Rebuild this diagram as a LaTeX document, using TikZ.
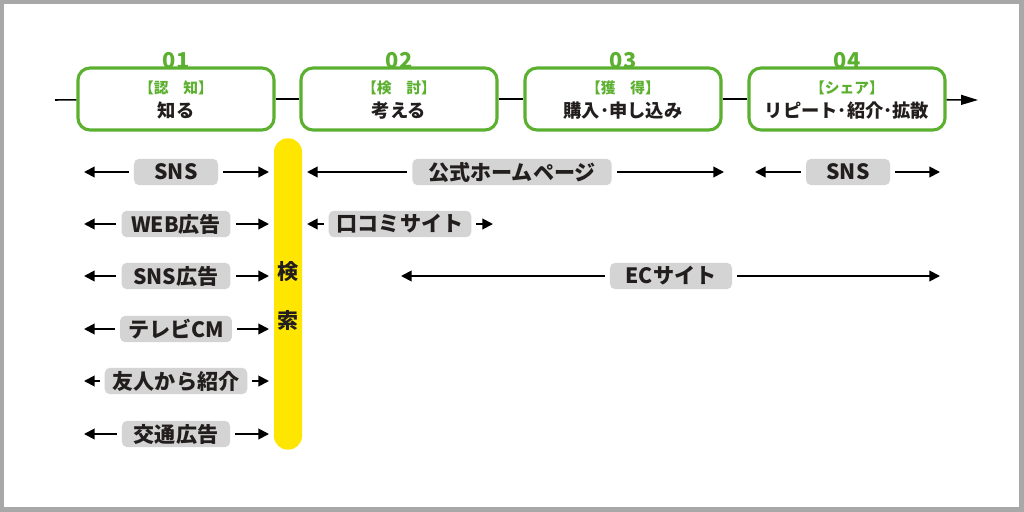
\documentclass[tikz,border=0pt]{standalone}
\usepackage{fontspec}
\newfontfamily\jp{Noto Sans CJK JP}
\usetikzlibrary{arrows.meta,positioning}
\definecolor{stepgreen}{RGB}{92,176,48}
\definecolor{searchyellow}{RGB}{255,230,0}
\definecolor{taggray}{RGB}{212,212,212}
\definecolor{ink}{RGB}{35,30,30}
\definecolor{framegray}{RGB}{168,168,168}
\tikzset{
 stage/.style={draw=stepgreen,line width=2.2pt,rounded corners=0.3cm,fill=white,minimum width=4.9cm,minimum height=1.55cm},
 stagenum/.style={text=stepgreen,font=\jp\bfseries\fontsize{15.5}{15.5}\selectfont,inner sep=0pt},
 stagekind/.style={text=stepgreen,font=\jp\bfseries\fontsize{10.5}{10.5}\selectfont,inner sep=0pt},
 stagetitle/.style={text=ink,font=\jp\bfseries\fontsize{13}{13}\selectfont,inner sep=0pt},
 tag/.style={fill=taggray,rounded corners=0.13cm,text=ink,font=\jp\bfseries\fontsize{15}{15}\selectfont,minimum height=0.66cm,inner xsep=0.2cm,inner ysep=0pt,outer xsep=0.13cm},
 searchbar/.style={fill=searchyellow,rounded corners=0.34cm,minimum width=0.7cm,minimum height=7.78cm,inner sep=0pt},
 searchchar/.style={text=ink,font=\jp\bfseries\fontsize{15}{15}\selectfont,inner sep=0pt},
 flow/.style={line width=1.3pt,-{Triangle[length=7.5pt,width=7.5pt]}},
 mainline/.style={line width=1.1pt}
}
\begin{document}
\begin{tikzpicture}[x=0.025cm,y=-0.025cm]
 % frame
 \fill[framegray] (0,0) rectangle (1024,512);
 \fill[white] (4,4) rectangle (1019,507);
 \useasboundingbox (0,0) rectangle (1024,512);
 % stages
 \coordinate (start) at (55,100);
 \coordinate (end) at (978,100);
 \node[stage] (s1) at (176,99) {};
 \node[stage] (s2) at (399,99) {};
 \node[stage] (s3) at (623,99) {};
 \node[stage] (s4) at (847,99) {};
 \draw[mainline] (start) -- (s1);
 \draw[mainline] (s1) -- (s2);
 \draw[mainline] (s2) -- (s3);
 \draw[mainline] (s3) -- (s4);
 \draw[mainline,-{Triangle[length=12pt,width=7pt]}] (s4) -- (end);
 \node[stagenum] (n1) at (176,61) {01};
 \node[stagenum] (n2) at (399,61) {02};
 \node[stagenum] (n3) at (623,61) {03};
 \node[stagenum] (n4) at (847,61) {04};
 \node[stagekind] (k1) at (176,88) {【認　知】};
 \node[stagekind] (k2) at (399,88) {【検　討】};
 \node[stagekind] (k3) at (623,88) {【獲　得】};
 \node[stagekind] (k4) at (847,88) {【シェア】};
 \node[stagetitle] (t1) at (176,111) {知る};
 \node[stagetitle] (t2) at (399,111) {考える};
 \node[stagetitle] (t3) at (623,111) {購入･申し込み};
 \node[stagetitle] (t4) at (847,111) {リピート･紹介･拡散};
 % search
 \node[searchbar] (bar) at (288,294) {};
 \node[searchchar] (q1) at (288,272) {検};
 \node[searchchar] (q2) at (288,320) {索};
 % left column
 \coordinate (l1a) at (84,172); \coordinate (l1b) at (269,172);
 \coordinate (l2a) at (84,224); \coordinate (l2b) at (269,224);
 \coordinate (l3a) at (84,276); \coordinate (l3b) at (269,276);
 \coordinate (l4a) at (84,329); \coordinate (l4b) at (269,329);
 \coordinate (l5a) at (84,381); \coordinate (l5b) at (269,381);
 \coordinate (l6a) at (84,434); \coordinate (l6b) at (269,434);
 \node[tag,minimum width=2.1cm] (l1) at (176,172) {SNS};
 \node[tag,minimum width=2.72cm] (l2) at (176,224) {WEB広告};
 \node[tag,minimum width=2.72cm] (l3) at (176,276) {SNS広告};
 \node[tag,minimum width=2.7cm] (l4) at (176,329) {テレビCM};
 \node[tag,minimum width=3.45cm] (l5) at (176,381) {友人から紹介};
 \node[tag,minimum width=2.7cm] (l6) at (176,434) {交通広告};
 \draw[flow] (l1) -- (l1a); \draw[flow] (l1) -- (l1b);
 \draw[flow] (l2) -- (l2a); \draw[flow] (l2) -- (l2b);
 \draw[flow] (l3) -- (l3a); \draw[flow] (l3) -- (l3b);
 \draw[flow] (l4) -- (l4a); \draw[flow] (l4) -- (l4b);
 \draw[flow] (l5) -- (l5a); \draw[flow] (l5) -- (l5b);
 \draw[flow] (l6) -- (l6a); \draw[flow] (l6) -- (l6b);
 % right side
 \coordinate (r1a) at (307,172); \coordinate (r1b) at (724,172);
 \coordinate (r2a) at (307,224); \coordinate (r2b) at (493,224);
 \coordinate (r3a) at (755,172); \coordinate (r3b) at (940,172);
 \coordinate (r4a) at (401,276); \coordinate (r4b) at (940,276);
 \node[tag,minimum width=4.98cm] (r1) at (512,172) {公式ホームページ};
 \node[tag,minimum width=3.3cm] (r2) at (400,224) {口コミサイト};
 \node[tag,minimum width=2.1cm] (r3) at (848,172) {SNS};
 \node[tag,minimum width=3.05cm] (r4) at (671,276) {ECサイト};
 \draw[flow] (r1) -- (r1a); \draw[flow] (r1) -- (r1b);
 \draw[flow] (r2) -- (r2a); \draw[flow] (r2) -- (r2b);
 \draw[flow] (r3) -- (r3a); \draw[flow] (r3) -- (r3b);
 \draw[flow] (r4) -- (r4a); \draw[flow] (r4) -- (r4b);
\end{tikzpicture}
\end{document}
